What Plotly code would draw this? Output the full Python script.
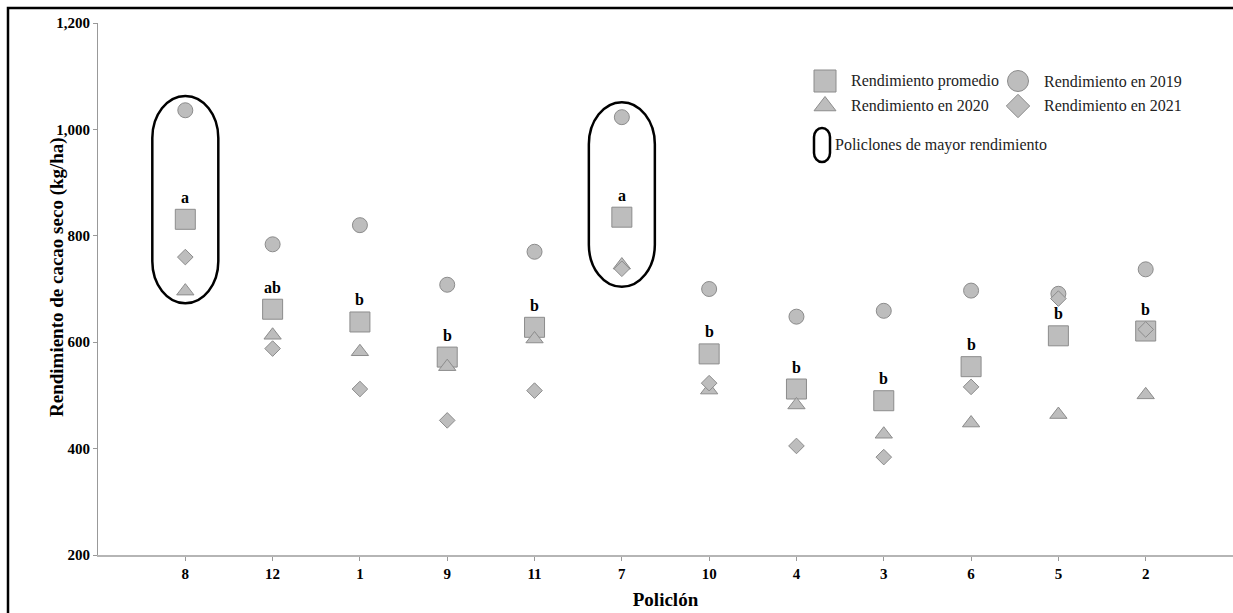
import plotly.graph_objects as go

# Policlones in plotted order and the yield of each year (kg/ha)
policlones = ["8", "12", "1", "9", "11", "7", "10", "4", "3", "6", "5", "2"]
rend_2019 = [1036, 784, 820, 708, 770, 1023, 700, 648, 659, 697, 691, 737]
rend_2020 = [696, 613, 582, 554, 606, 745, 510, 482, 427, 448, 464, 501]
rend_2021 = [760, 588, 512, 453, 509, 738, 523, 405, 384, 516, 682, 624]
rend_promedio = [831, 662, 638, 572, 628, 835, 578, 512, 490, 554, 612, 621]
letras = ["a", "ab", "b", "b", "b", "a", "b", "b", "b", "b", "b", "b"]

# Highest-yield policlones, outlined with a rounded frame (category, top, bottom)
destacados = [("8", 1063, 673), ("7", 1051, 704)]

FONT = "Liberation Serif"
FILL = "#bdbdbd"
EDGE = "#8c8c8c"

W, H = 1233, 613
L, R, T, B = 98, 0, 23, 58
PW, PH = W - L - R, H - T - B
XR = (-1, 12)
YR = (200, 1200)

xs = list(range(len(policlones)))

fig = go.Figure()


def serie(y, symbol, size, name):
    fig.add_trace(go.Scatter(
        x=xs, y=y, mode="markers", name=name, showlegend=False,
        marker=dict(symbol=symbol, size=size, color=FILL,
                    line=dict(color=EDGE, width=1)),
        cliponaxis=False,
    ))


serie(rend_promedio, "square", 20, "Rendimiento promedio")
serie(rend_2019, "circle", 15, "Rendimiento en 2019")
serie(rend_2020, "triangle-up", 15, "Rendimiento en 2020")
serie(rend_2021, "diamond", 12, "Rendimiento en 2021")

# Significance letters above the mean markers
for i, (v, t) in enumerate(zip(rend_promedio, letras)):
    fig.add_annotation(x=i, y=v, text=f"<b>{t}</b>", showarrow=False,
                       yshift=22, font=dict(family=FONT, size=16, color="black"))


def stadium(x0, x1, ytop, ybot, ry):
    """Closed path of a vertical rounded frame built from cubic Béziers."""
    k = 0.5523
    xc = (x0 + x1) / 2
    rx = (x1 - x0) / 2
    yt = ytop - ry  # centre of the top arc
    yb = ybot + ry  # centre of the bottom arc
    return (
        f"M{x0},{yb} L{x0},{yt} "
        f"C{x0},{yt + k * ry} {xc - k * rx},{ytop} {xc},{ytop} "
        f"C{xc + k * rx},{ytop} {x1},{yt + k * ry} {x1},{yt} "
        f"L{x1},{yb} "
        f"C{x1},{yb - k * ry} {xc + k * rx},{ybot} {xc},{ybot} "
        f"C{xc - k * rx},{ybot} {x0},{yb - k * ry} {x0},{yb} Z"
    )


px_per_x = PW / (XR[1] - XR[0])
px_per_y = PH / (YR[1] - YR[0])
for cat, top, bot in destacados:
    i = policlones.index(cat)
    half = 33 / px_per_x
    fig.add_shape(type="path", xref="x", yref="y",
                  path=stadium(i - half, i + half, top, bot, 42 / px_per_y),
                  line=dict(color="black", width=2.5))


# helpers for placing legend items in pixel units
def px(xp):
    return (xp - L) / PW


def py(yp):
    return (H - B - yp) / PH


# Legend: markers on an overlay axis spanning the paper area
leg_items = [
    ("square", 22, 825, 81, "Rendimiento promedio"),
    ("circle", 21, 1018, 81, "Rendimiento en 2019"),
    ("triangle-up", 19, 825, 106, "Rendimiento en 2020"),
    ("diamond", 18, 1018, 106, "Rendimiento en 2021"),
]
for sym, size, xp, yp, label in leg_items:
    fig.add_trace(go.Scatter(
        x=[px(xp)], y=[py(yp)], xaxis="x2", yaxis="y2", mode="markers",
        showlegend=False, hoverinfo="skip",
        marker=dict(symbol=sym, size=size, color=FILL,
                    line=dict(color=EDGE, width=1)),
    ))
    fig.add_annotation(xref="paper", yref="paper", x=px(xp + 24), y=py(yp),
                       xanchor="left", yanchor="middle", text=label,
                       showarrow=False,
                       font=dict(family=FONT, size=16, color="#222"))

fig.add_shape(type="path", xref="paper", yref="paper",
              path=stadium(px(814), px(830), py(128), py(162), 9 / PH),
              line=dict(color="black", width=2.5))
fig.add_annotation(xref="paper", yref="paper", x=px(833), y=py(145),
                   xanchor="left", yanchor="middle",
                   text="Policlones de mayor rendimiento", showarrow=False,
                   font=dict(family=FONT, size=16, color="#222"))

# Frame around the figure
fig.add_shape(type="rect", xref="paper", yref="paper",
              x0=px(8), y0=py(8), x1=px(W + 5), y1=py(H + 5),
              line=dict(color="black", width=2.5), layer="above")

# Y axis title
fig.add_annotation(xref="paper", yref="paper", x=px(44), y=py(277),
                   text="<b>Rendimiento de cacao seco (kg/ha)</b>",
                   textangle=-90, showarrow=False,
                   font=dict(family=FONT, size=19, color="black"))

fig.update_layout(
    width=W, height=H,
    margin=dict(l=L, r=R, t=T, b=B, pad=0),
    paper_bgcolor="white", plot_bgcolor="white",
    showlegend=False,
    xaxis=dict(
        range=list(XR), tickmode="array", tickvals=xs,
        ticktext=[f"<b>{p}</b>" for p in policlones],
        showgrid=False, zeroline=False,
        showline=True, linecolor="#b5b5b5", linewidth=2,
        ticks="outside", ticklen=4, tickcolor="#999",
        tickfont=dict(family=FONT, size=15, color="black"),
        title=dict(text="<b>Policlón</b>", standoff=12,
                   font=dict(family=FONT, size=19, color="black")),
    ),
    yaxis=dict(
        range=list(YR), tickmode="array",
        tickvals=[200, 400, 600, 800, 1000, 1200],
        ticktext=["<b>200</b>", "<b>400</b>", "<b>600</b>", "<b>800</b>",
                  "<b>1,000</b>", "<b>1,200</b>"],
        showgrid=False, zeroline=False,
        showline=True, linecolor="#999", linewidth=1,
        ticks="outside", ticklen=4, tickcolor="#999",
        tickfont=dict(family=FONT, size=15, color="black"),
    ),
    xaxis2=dict(range=[0, 1], overlaying="x", visible=False, fixedrange=True),
    yaxis2=dict(range=[0, 1], overlaying="y", visible=False, fixedrange=True),
)

fig.write_html("out.html")
